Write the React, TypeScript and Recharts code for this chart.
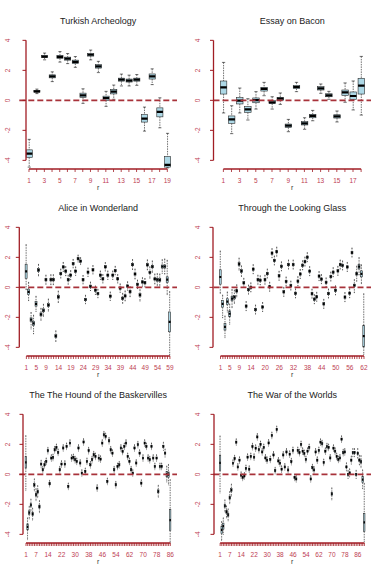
import { ComposedChart, Bar, XAxis, YAxis, ReferenceLine } from 'recharts';

const FONT = '"Liberation Sans", Arial, Helvetica, sans-serif';
const AXIS = '#a11d24';
const TICK_TEXT = '#bd3d52';
const ZERO = '#a8323a';
const BOX_FILL = '#add8e6';

// Turkish Archeology: five-number summaries per r
const turkLo = [-4.45, 0.45, 2.7, 1.25, 2.55, 2.45, 2.2, -0.2, 2.7, 1.85, -0.4, 0.07, 0.96, 0.96, 1.0, -2.05, 1.05, -1.83, -4.5];
const turkQ1 = [-3.8, 0.55, 2.85, 1.5, 2.8, 2.68, 2.45, 0.2, 2.95, 2.15, 0.0, 0.43, 1.28, 1.22, 1.28, -1.45, 1.42, -1.1, -4.45];
const turkMed = [-3.55, 0.6, 2.92, 1.6, 2.9, 2.78, 2.57, 0.33, 3.04, 2.26, 0.15, 0.58, 1.38, 1.31, 1.38, -1.22, 1.6, -0.77, -4.3];
const turkQ3 = [-3.3, 0.65, 3.0, 1.7, 3.0, 2.88, 2.68, 0.48, 3.12, 2.38, 0.28, 0.73, 1.48, 1.42, 1.48, -0.95, 1.76, -0.5, -3.74];
const turkHi = [-2.6, 0.75, 3.15, 1.9, 3.25, 3.12, 2.92, 0.77, 3.35, 2.6, 0.6, 1.02, 1.75, 1.68, 1.72, -0.45, 2.1, 0.17, -2.2];
const turkLabels = [1, 3, 5, 7, 9, 11, 13, 15, 17, 19];

// Essay on Bacon
const baconLo = [-0.84, -2.22, -0.84, -1.31, -0.58, 0.31, -0.58, -0.27, -2.09, 0.58, -1.93, -1.36, 0.47, 0.07, -1.44, -0.13, -0.64, -0.98];
const baconQ1 = [0.42, -1.53, -0.24, -0.8, -0.16, 0.62, -0.22, 0.0, -1.8, 0.78, -1.64, -1.16, 0.69, 0.24, -1.18, 0.33, 0.07, 0.42];
const baconMed = [0.87, -1.27, -0.02, -0.6, 0.02, 0.76, -0.13, 0.11, -1.69, 0.89, -1.53, -1.04, 0.8, 0.33, -1.07, 0.53, 0.29, 0.98];
const baconQ3 = [1.29, -1.04, 0.18, -0.42, 0.16, 0.87, -0.02, 0.2, -1.58, 1.0, -1.42, -0.93, 0.91, 0.44, -0.96, 0.69, 0.56, 1.47];
const baconHi = [2.53, -0.36, 0.82, 0.11, 0.58, 1.2, 0.24, 0.49, -1.27, 1.2, -1.16, -0.67, 1.09, 0.6, -0.71, 1.16, 1.29, 2.93];
const baconLabels = [1, 3, 5, 7, 9, 11, 13, 15, 17];

// Alice in Wonderland: median, half box height, whisker above / below box
const aliceMed = [1.07, -0.3, -2.15, -2.4, -1.1, 1.15, -1.8, -1.53, 0.51, -1.18,
  0.51, 0.51, -3.25, -0.63, 0.92, 1.36, 1.08, 0.51, 0.81, 1.58,
  1.08, 1.92, 1.75, 0.51, -0.81, 1.01, 0.07, 1.17, -0.19, -0.41,
  0.81, 0.57, 1.37, 0.81, -0.59, 0.81, 1.12, 0.57, -0.05, -0.73,
  -0.57, 0.09, -0.29, 1.52, 0.89, 0.2, -0.51, 0.36, 0.31, 1.5,
  0.99, 1.38, 0.56, 0.51, 0.49, 1.39, 1.39, 0.51, -2.3];
const aliceBox = [0.47, 0.18, 0.12, 0.14, 0.15, 0.1, 0.1, 0.1, 0.08, 0.1,
  0.08, 0.08, 0.1, 0.1, 0.08, 0.08, 0.08, 0.08, 0.08, 0.08,
  0.08, 0.08, 0.08, 0.08, 0.08, 0.08, 0.08, 0.08, 0.08, 0.08,
  0.08, 0.08, 0.08, 0.08, 0.08, 0.08, 0.08, 0.08, 0.08, 0.08,
  0.08, 0.08, 0.08, 0.08, 0.08, 0.08, 0.1, 0.08, 0.08, 0.08,
  0.08, 0.08, 0.08, 0.1, 0.1, 0.1, 0.1, 0.19, 0.66];
const aliceUp = [1.3, 0.45, 0.35, 0.4, 0.35, 0.28, 0.3, 0.3, 0.22, 0.3,
  0.25, 0.25, 0.25, 0.28, 0.22, 0.22, 0.22, 0.22, 0.22, 0.2,
  0.2, 0.15, 0.15, 0.2, 0.2, 0.2, 0.2, 0.2, 0.2, 0.2,
  0.2, 0.2, 0.2, 0.2, 0.2, 0.2, 0.2, 0.2, 0.2, 0.25,
  0.25, 0.2, 0.25, 0.25, 0.25, 0.2, 0.25, 0.2, 0.2, 0.25,
  0.3, 0.3, 0.25, 0.3, 0.3, 0.35, 0.4, 1.1, 1.35];
const aliceDn = [0.75, 0.4, 0.5, 0.55, 0.35, 0.28, 0.3, 0.3, 0.22, 0.3,
  0.25, 0.25, 0.25, 0.28, 0.22, 0.22, 0.22, 0.22, 0.22, 0.2,
  0.2, 0.15, 0.15, 0.2, 0.2, 0.2, 0.2, 0.2, 0.2, 0.2,
  0.2, 0.2, 0.2, 0.2, 0.2, 0.2, 0.2, 0.2, 0.2, 0.25,
  0.25, 0.2, 0.25, 0.25, 0.25, 0.2, 0.3, 0.2, 0.2, 0.25,
  0.3, 0.3, 0.25, 0.3, 0.3, 0.35, 0.4, 0.8, 1.55];
const aliceLabels = [1, 5, 9, 14, 19, 24, 29, 34, 39, 44, 49, 54, 59];

// Through the Looking Glass
const glassMed = [0.69, -1.1, -2.63, -0.95, -1.76, -0.75, -0.65, -0.23, 1.55, 1.08,
  0.3, -1.25, -0.15, 0.0, 1.21, -1.48, 0.51, 0.47, -1.31, 0.51,
  0.92, 0.04, 2.28, 1.79, 2.38, 0.77, 1.4, -0.3, 0.39, 1.52,
  0.12, 1.52, -0.4, 0.41, 0.89, 1.47, 1.72, 2.01, 1.08, -0.42,
  -0.79, -0.63, 0.75, 0.55, -1.1, 0.33, -0.41, 0.72, 1.01, -0.2,
  1.1, 1.52, 1.46, -0.65, 1.36, -0.39, 2.32, 0.13, 0.91, 1.38,
  0.9, -3.25];
const glassBox = [0.48, 0.22, 0.22, 0.19, 0.2, 0.15, 0.12, 0.1, 0.1, 0.1,
  0.08, 0.08, 0.08, 0.08, 0.08, 0.08, 0.08, 0.08, 0.08, 0.08,
  0.08, 0.08, 0.08, 0.08, 0.08, 0.08, 0.08, 0.08, 0.08, 0.08,
  0.08, 0.08, 0.08, 0.08, 0.08, 0.08, 0.08, 0.08, 0.08, 0.08,
  0.08, 0.08, 0.08, 0.08, 0.08, 0.08, 0.08, 0.08, 0.08, 0.08,
  0.08, 0.08, 0.08, 0.08, 0.08, 0.08, 0.08, 0.08, 0.1, 0.15,
  0.2, 0.72];
const glassUp = [1.25, 0.36, 0.5, 0.45, 0.45, 0.45, 0.35, 0.3, 0.3, 0.25,
  0.22, 0.22, 0.22, 0.22, 0.22, 0.22, 0.22, 0.22, 0.22, 0.22,
  0.22, 0.22, 0.22, 0.22, 0.22, 0.22, 0.22, 0.22, 0.22, 0.22,
  0.22, 0.22, 0.22, 0.22, 0.22, 0.22, 0.22, 0.22, 0.22, 0.22,
  0.22, 0.22, 0.22, 0.22, 0.22, 0.22, 0.22, 0.22, 0.22, 0.22,
  0.22, 0.22, 0.22, 0.22, 0.22, 0.22, 0.22, 0.3, 0.4, 0.45,
  0.4, 2.1];
const glassDn = [0.6, 0.7, 0.5, 0.5, 0.5, 0.45, 0.3, 0.3, 0.3, 0.25,
  0.22, 0.22, 0.22, 0.22, 0.22, 0.22, 0.22, 0.22, 0.22, 0.22,
  0.22, 0.22, 0.22, 0.22, 0.22, 0.22, 0.22, 0.22, 0.22, 0.22,
  0.22, 0.22, 0.22, 0.22, 0.22, 0.22, 0.22, 0.22, 0.22, 0.22,
  0.22, 0.22, 0.22, 0.22, 0.22, 0.22, 0.22, 0.22, 0.22, 0.22,
  0.22, 0.22, 0.22, 0.22, 0.22, 0.22, 0.22, 0.4, 0.4, 0.4,
  0.45, 0.5];
const glassLabels = [1, 5, 9, 14, 20, 26, 32, 38, 44, 50, 56, 62];

// The Hound of the Baskervilles
const houndMed = [0.8, -3.5, -2.55, -2.05, -2.65, -0.7, -1.35, -1.15, -2.15, 0.69,
  0.31, 0.64, 0.87, 1.58, -0.62, 1.09, 1.13, 1.64, 1.8, 1.47,
  0.31, 0.69, 1.76, 0.69, 1.87, -0.8, 2.09, 1.09, 1.13, 0.98,
  0.87, 1.76, 0.76, 0.09, 2.16, 0.2, 0.87, 1.58, 0.64, 0.98,
  1.31, 1.2, -0.91, 1.09, 1.02, 2.09, 2.64, 2.53, -0.47, 2.24,
  1.64, 1.42, 0.31, -0.69, 0.53, 0.64, 1.76, 1.53, 1.87, 2.09,
  1.2, 0.87, 0.31, 0.09, 1.76, 0.76, 1.98, 1.42, -0.58, 1.09,
  2.09, 1.87, 1.09, 0.98, 1.87, 1.09, 0.53, 1.09, -1.13, 0.53,
  0.53, 1.87, 1.42, 0.02, -0.02, -3.05];
const houndBox = [0.38, 0.2, 0.12, 0.1, 0.1, 0.1, 0.1, 0.1, 0.1, 0.07,
  0.07, 0.07, 0.07, 0.07, 0.07, 0.07, 0.07, 0.07, 0.07, 0.07,
  0.07, 0.07, 0.07, 0.07, 0.07, 0.07, 0.07, 0.07, 0.07, 0.07,
  0.07, 0.07, 0.07, 0.07, 0.07, 0.07, 0.07, 0.07, 0.07, 0.07,
  0.07, 0.07, 0.07, 0.07, 0.07, 0.07, 0.07, 0.07, 0.07, 0.07,
  0.07, 0.07, 0.07, 0.07, 0.07, 0.07, 0.07, 0.07, 0.07, 0.07,
  0.07, 0.07, 0.07, 0.07, 0.07, 0.07, 0.07, 0.07, 0.07, 0.07,
  0.07, 0.07, 0.07, 0.07, 0.07, 0.07, 0.07, 0.07, 0.1, 0.07,
  0.07, 0.07, 0.07, 0.18, 0.18, 0.7];
const houndUp = [1.4, 0.4, 0.3, 0.3, 0.3, 0.3, 0.3, 0.3, 0.3, 0.18,
  0.15, 0.15, 0.15, 0.15, 0.15, 0.15, 0.15, 0.15, 0.15, 0.15,
  0.15, 0.15, 0.15, 0.15, 0.15, 0.15, 0.15, 0.15, 0.15, 0.15,
  0.15, 0.15, 0.15, 0.15, 0.15, 0.15, 0.15, 0.15, 0.15, 0.15,
  0.15, 0.15, 0.15, 0.15, 0.15, 0.15, 0.15, 0.15, 0.15, 0.15,
  0.15, 0.15, 0.15, 0.15, 0.15, 0.15, 0.15, 0.15, 0.15, 0.15,
  0.15, 0.15, 0.15, 0.15, 0.15, 0.15, 0.15, 0.15, 0.15, 0.15,
  0.15, 0.15, 0.15, 0.15, 0.15, 0.15, 0.15, 0.15, 0.3, 0.15,
  0.15, 0.2, 0.2, 0.35, 0.5, 2.0];
const houndDn = [1.5, 0.65, 0.3, 0.3, 0.3, 0.3, 0.3, 0.3, 0.3, 0.18,
  0.15, 0.15, 0.15, 0.15, 0.15, 0.15, 0.15, 0.15, 0.15, 0.15,
  0.15, 0.15, 0.15, 0.15, 0.15, 0.15, 0.15, 0.15, 0.15, 0.15,
  0.15, 0.15, 0.15, 0.15, 0.15, 0.15, 0.15, 0.15, 0.15, 0.15,
  0.15, 0.15, 0.15, 0.15, 0.15, 0.15, 0.15, 0.15, 0.15, 0.15,
  0.15, 0.15, 0.15, 0.15, 0.15, 0.15, 0.15, 0.15, 0.15, 0.15,
  0.15, 0.15, 0.15, 0.15, 0.15, 0.15, 0.15, 0.15, 0.15, 0.15,
  0.15, 0.15, 0.15, 0.15, 0.15, 0.15, 0.15, 0.15, 0.3, 0.15,
  0.15, 0.2, 0.2, 0.35, 0.5, 0.8];
const houndLabels = [1, 7, 14, 22, 30, 38, 46, 54, 62, 70, 78, 86];

// The War of the Worlds
const warMed = [0.76, -3.7, -3.45, -2.1, -2.5, -2.7, -1.55, -1.05, 0.75, 1.05,
  2.15, 0.5, 0.95, -0.05, -0.2, -0.1, 0.4, 1.15, 0.35, 1.2,
  1.85, 1.15, 1.75, 2.5, 1.65, 2.0, 1.5, 1.8, 1.1, 0.95,
  2.1, 1.0, 2.6, 1.3, 0.25, 3.0, 0.9, 0.75, 0.35, 1.3,
  0.5, 1.5, 0.3, 1.35, 0.85, 1.6, -0.2, -0.3, 1.6, 1.45,
  2.0, 1.55, 1.4, 1.0, 1.55, 1.8, -0.3, 0.45, 0.3, 1.5,
  0.95, 1.6, 2.15, 2.05, 0.8, 1.55, 1.85, 1.8, 1.1, -1.3,
  1.75, 1.55, 1.2, 1.0, 1.1, 2.35, 1.45, 1.5, 0.5, 0.0,
  0.1, 0.95, 1.45, 1.45, 0.0, 1.4, 0.95, 0.85, -0.35, -3.2];
const warBox = [0.5, 0.25, 0.2, 0.1, 0.1, 0.1, 0.1, 0.1, 0.07, 0.07,
  0.07, 0.07, 0.07, 0.07, 0.07, 0.07, 0.07, 0.07, 0.07, 0.07,
  0.07, 0.07, 0.07, 0.07, 0.07, 0.07, 0.07, 0.07, 0.07, 0.07,
  0.07, 0.07, 0.07, 0.07, 0.07, 0.07, 0.07, 0.07, 0.07, 0.07,
  0.07, 0.07, 0.07, 0.07, 0.07, 0.07, 0.07, 0.07, 0.07, 0.07,
  0.07, 0.07, 0.07, 0.07, 0.07, 0.07, 0.07, 0.07, 0.07, 0.07,
  0.07, 0.07, 0.07, 0.07, 0.07, 0.07, 0.07, 0.07, 0.07, 0.1,
  0.07, 0.07, 0.07, 0.07, 0.07, 0.07, 0.07, 0.07, 0.07, 0.07,
  0.07, 0.07, 0.07, 0.07, 0.07, 0.07, 0.07, 0.1, 0.2, 0.6];
const warUp = [1.3, 0.3, 0.35, 0.3, 0.3, 0.3, 0.3, 0.3, 0.15, 0.15,
  0.15, 0.15, 0.15, 0.15, 0.15, 0.15, 0.15, 0.15, 0.15, 0.15,
  0.15, 0.15, 0.15, 0.15, 0.15, 0.15, 0.15, 0.15, 0.15, 0.15,
  0.15, 0.15, 0.15, 0.15, 0.15, 0.15, 0.15, 0.15, 0.15, 0.15,
  0.15, 0.15, 0.15, 0.15, 0.15, 0.15, 0.15, 0.15, 0.15, 0.15,
  0.15, 0.15, 0.15, 0.15, 0.15, 0.15, 0.15, 0.15, 0.15, 0.15,
  0.15, 0.15, 0.15, 0.15, 0.15, 0.15, 0.15, 0.15, 0.15, 0.3,
  0.15, 0.15, 0.15, 0.15, 0.15, 0.15, 0.15, 0.15, 0.2, 0.2,
  0.2, 0.2, 0.2, 0.2, 0.2, 0.25, 0.25, 0.3, 0.45, 2.0];
const warDn = [1.5, 0.45, 0.35, 0.3, 0.3, 0.3, 0.3, 0.3, 0.15, 0.15,
  0.15, 0.15, 0.15, 0.15, 0.15, 0.15, 0.15, 0.15, 0.15, 0.15,
  0.15, 0.15, 0.15, 0.15, 0.15, 0.15, 0.15, 0.15, 0.15, 0.15,
  0.15, 0.15, 0.15, 0.15, 0.15, 0.15, 0.15, 0.15, 0.15, 0.15,
  0.15, 0.15, 0.15, 0.15, 0.15, 0.15, 0.15, 0.15, 0.15, 0.15,
  0.15, 0.15, 0.15, 0.15, 0.15, 0.15, 0.15, 0.15, 0.15, 0.15,
  0.15, 0.15, 0.15, 0.15, 0.15, 0.15, 0.15, 0.15, 0.15, 0.3,
  0.15, 0.15, 0.15, 0.15, 0.15, 0.15, 0.15, 0.15, 0.2, 0.2,
  0.2, 0.2, 0.2, 0.2, 0.2, 0.25, 0.25, 0.3, 0.4, 0.7];
const warLabels = [1, 7, 14, 22, 30, 38, 46, 54, 62, 70, 78, 86];

const yTicks = [-4, -2, 0, 2, 4];
const Y_MIN = -4.576;
const Y_MAX = 4.576;

type Stats = { lo: number[]; q1: number[]; med: number[]; q3: number[]; hi: number[] };

function fromSpread(med: number[], box: number[], up: number[], dn: number[]): Stats {
  const q1 = med.map((m, i) => m - box[i]);
  const q3 = med.map((m, i) => m + box[i]);
  return { lo: q1.map((q, i) => q - dn[i]), q1, med, q3, hi: q3.map((q, i) => q + up[i]) };
}

function BoxShape(props: any) {
  const { x, y, width, height, payload, boxW } = props;
  if (!payload) return null;
  const top = Math.min(y, y + height);
  const h = Math.abs(height);
  const span = payload.hi - payload.lo || 1;
  const py = (v: number) => top + ((payload.hi - v) / span) * h;
  const cx = x + width / 2;
  const half = boxW / 2;
  const yHi = py(payload.hi);
  const yLo = py(payload.lo);
  const yQ3 = py(payload.q3);
  const yQ1 = py(payload.q1);
  const yMed = py(payload.med);
  return (
    <g>
      <line x1={cx} x2={cx} y1={yHi} y2={yQ3} stroke="#111" strokeWidth={0.6} strokeDasharray="1.5 1" />
      <line x1={cx} x2={cx} y1={yQ1} y2={yLo} stroke="#111" strokeWidth={0.6} strokeDasharray="1.5 1" />
      <line x1={cx - half / 2} x2={cx + half / 2} y1={yHi} y2={yHi} stroke="#111" strokeWidth={0.6} />
      <line x1={cx - half / 2} x2={cx + half / 2} y1={yLo} y2={yLo} stroke="#111" strokeWidth={0.6} />
      <rect x={cx - half} y={yQ3} width={boxW} height={Math.max(yQ1 - yQ3, 0.3)} fill={BOX_FILL} stroke="#2b2b2b" strokeWidth={0.6} />
      <line x1={cx - half} x2={cx + half} y1={yMed} y2={yMed} stroke="#000" strokeWidth={2.2} />
    </g>
  );
}

const COLS = [
  { left: 0, width: 190, axisW: 19, ml: 0.3, mr: 13 },
  { left: 190, width: 189, axisW: 23.5, ml: 0, mr: 8 },
];
const ROW_TOP = [0, 187.2, 374.4];
const CHART_H = 191;
const M_TOP = 31.7;
const X_H = 22;
const Y_LABEL_X = 7.5;

function Panel({ title, stats, labels, col, row, axisX }: { title: string; stats: Stats; labels: number[]; col: number; row: number; axisX: number }) {
  const c = COLS[col];
  const top = ROW_TOP[row];
  const n = stats.med.length;
  const cats = stats.med.map((_, i) => i + 1);
  const data = cats.map((r, i) => ({
    r,
    lo: stats.lo[i],
    q1: stats.q1[i],
    med: stats.med[i],
    q3: stats.q3[i],
    hi: stats.hi[i],
    range: [stats.lo[i], stats.hi[i]],
  }));
  const xMin = 0.5 - 0.04 * n;
  const xMax = n + 0.5 + 0.04 * n;
  const plotLeft = c.ml + c.axisW;
  const plotW = c.width - plotLeft - c.mr;
  const step = plotW / (xMax - xMin);
  const boxW = Math.max(1.4, 0.8 * step);
  // the y axis line sits a little right of the plot edge in some panels
  const axisVal = xMin + (axisX - plotLeft) / step;

  const xTick = (p: any) => {
    const v = p.payload?.value;
    if (!labels.includes(v)) return <g />;
    return (
      <text x={p.x} y={p.y} dy="0.71em" textAnchor="middle" fontSize={6.5} fill={TICK_TEXT} fontFamily={FONT}>
        {v}
      </text>
    );
  };
  const yTick = (p: any) => (
    <g>
      <line x1={axisX} x2={axisX - 3.5} y1={p.y} y2={p.y} stroke={AXIS} strokeWidth={1} />
      <text
        transform={`translate(${Y_LABEL_X},${p.y}) rotate(-90)`}
        textAnchor="middle"
        dy="0.35em"
        fontSize={6.5}
        fill={TICK_TEXT}
        fontFamily={FONT}
      >
        {p.payload?.value}
      </text>
    </g>
  );

  return (
    <div style={{ position: 'absolute', left: c.left, top, width: c.width, height: CHART_H }}>
      <div
        style={{
          position: 'absolute',
          left: plotLeft,
          width: plotW,
          top: 14.7,
          height: 12,
          lineHeight: '12px',
          fontSize: 9,
          fontFamily: FONT,
          color: '#222',
          textAlign: 'center',
          whiteSpace: 'nowrap',
        }}
      >
        {title}
      </div>
      <ComposedChart
        width={c.width}
        height={CHART_H}
        data={data}
        margin={{ top: M_TOP, right: c.mr, bottom: 0, left: c.ml }}
      >
        <XAxis
          dataKey="r"
          type="number"
          domain={[xMin, xMax]}
          ticks={cats}
          interval={0}
          allowDataOverflow
          height={X_H}
          axisLine={false}
          tickLine={{ stroke: AXIS, strokeWidth: 0.8 }}
          tickSize={3}
          tickMargin={6}
          tick={xTick}
          label={{ value: 'r', position: 'insideBottom', offset: 1, fontSize: 7, fill: '#333', fontFamily: FONT }}
        />
        <YAxis
          type="number"
          domain={[Y_MIN, Y_MAX]}
          ticks={yTicks}
          allowDataOverflow
          width={c.axisW}
          axisLine={false}
          tickLine={false}
          tick={yTick}
        />
        <ReferenceLine y={0} stroke={ZERO} strokeWidth={1.6} strokeDasharray="6 3" />
        <ReferenceLine
          segment={[{ x: axisVal, y: -4 }, { x: axisVal, y: 4 }]}
          stroke={AXIS}
          strokeWidth={1.3}
          ifOverflow="visible"
        />
        <ReferenceLine
          segment={[{ x: 1, y: Y_MIN }, { x: n, y: Y_MIN }]}
          stroke={AXIS}
          strokeWidth={1.6}
          ifOverflow="visible"
        />
        <Bar
          dataKey="range"
          barSize={boxW}
          isAnimationActive={false}
          shape={(p: any) => <BoxShape {...p} boxW={boxW} />}
        />
      </ComposedChart>
    </div>
  );
}

const turkish: Stats = { lo: turkLo, q1: turkQ1, med: turkMed, q3: turkQ3, hi: turkHi };
const bacon: Stats = { lo: baconLo, q1: baconQ1, med: baconMed, q3: baconQ3, hi: baconHi };
const alice = fromSpread(aliceMed, aliceBox, aliceUp, aliceDn);
const glass = fromSpread(glassMed, glassBox, glassUp, glassDn);
const hound = fromSpread(houndMed, houndBox, houndUp, houndDn);
const war = fromSpread(warMed, warBox, warUp, warDn);

export default function App() {
  return (
    <div style={{ position: 'absolute', left: 0, top: 0, width: 379, height: 573, background: '#fff', overflow: 'hidden' }}>
      <Panel title="Turkish Archeology" stats={turkish} labels={turkLabels} col={0} row={0} axisX={26} />
      <Panel title="Essay on Bacon" stats={bacon} labels={baconLabels} col={1} row={0} axisX={23.5} />
      <Panel title="Alice in Wonderland" stats={alice} labels={aliceLabels} col={0} row={1} axisX={19.3} />
      <Panel title="Through the Looking Glass" stats={glass} labels={glassLabels} col={1} row={1} axisX={23} />
      <Panel title="The The Hound of the Baskervilles" stats={hound} labels={houndLabels} col={0} row={2} axisX={23} />
      <Panel title="The War of the Worlds" stats={war} labels={warLabels} col={1} row={2} axisX={24} />
    </div>
  );
}
